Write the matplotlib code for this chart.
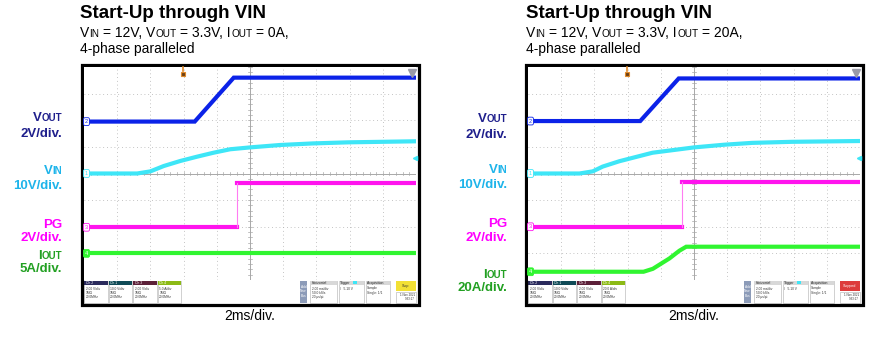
import matplotlib
matplotlib.use('Agg')
import matplotlib.pyplot as plt
from matplotlib.patches import Rectangle

plt.rcParams['font.family'] = ['Liberation Sans', 'DejaVu Sans']

W, H = 875, 348

# ---------------- data (time in ms, 2 ms/div) ----------------
# left capture: IOUT = 0A
t_vout_a = [-10, -3.33, -0.98, 10]
vout_a = [0, 0, 3.3, 3.3]
t_vin_a = [-10, -6.8, -6.0, -5.2, -4.2, -3.2, -2.2, -1.2, 0, 1.8, 3.8, 5.9, 10]
vin_a = [0, 0, 0.8, 2.8, 4.7, 6.3, 7.8, 9.1, 9.8, 10.7, 11.3, 11.7, 12.1]
t_pg_a = [-10, -0.77, -0.77, 10]
pg_a = [0, 0, 3.35, 3.35]
t_iout_a = [-10, 10]
iout_a = [0, 0]

# right capture: IOUT = 20A
t_vout_b = [-10, -3.24, -0.92, 10]
vout_b = [0, 0, 3.2, 3.2]
t_vin_b = [-10, -6.9, -6.1, -5.5, -4.5, -2.5, 0, 1.8, 3.5, 5.9, 10]
vin_b = [0, 0, 0.8, 2.6, 4.6, 7.8, 9.8, 10.8, 11.5, 11.9, 12.2]
t_pg_b = [-10, -0.71, -0.71, 10]
pg_b = [0, 0, 3.34, 3.34]
t_iout_b = [-10, -3.04, -2.48, -1.48, -0.88, -0.47, 10]
iout_b = [0, 0, 2.2, 10, 15.8, 18.8, 18.8]

# channel scales (units/div) and positions (div)
scale_a = {'vout': 2, 'vin': 10, 'pg': 2, 'iout': 5}
scale_b = {'vout': 2, 'vin': 10, 'pg': 2, 'iout': 20}
pos_a = {'vout': 1.95, 'vin': 0.0, 'pg': -2.02, 'iout': -3.0}
pos_b = {'vout': 1.97, 'vin': 0.0, 'pg': -2.0, 'iout': -3.69}

titles = ['Start-Up through VIN', 'Start-Up through VIN']
iout_text = ['0A,', '20A,']
iout_div = ['5A/div.', '20A/div.']

colors = {'vout': '#0b22e8', 'vin': '#3ee6f7', 'pg': '#ff14ee', 'iout': '#30f530'}
label_colors = {'vout': '#1f1f8c', 'vin': '#1eb4ea', 'pg': '#ff00ff', 'iout': '#22a022'}
tag_text = {'vout': '2', 'vin': '1', 'pg': '3', 'iout': '4'}

fig = plt.figure(figsize=(W / 100, H / 100), dpi=100)
ov = fig.add_axes([0, 0, 1, 1])
ov.set_xlim(0, W)
ov.set_ylim(H, 0)
ov.axis('off')
renderer = fig.canvas.get_renderer()


def text_w(s, size, weight='normal'):
    t = ov.text(0, 0, s, fontsize=size, fontweight=weight)
    w = t.get_window_extent(renderer).width
    t.remove()
    return w


def rich(x, y, parts, ha='left', weight='normal', color='black'):
    objs = []
    cx = x
    for s, size in parts:
        lead = len(s) - len(s.lstrip(' '))
        trail = len(s) - len(s.rstrip(' '))
        sp = text_w('a a', size, weight) - text_w('aa', size, weight)
        cx += lead * sp
        core = s.strip(' ')
        t = ov.text(cx, y, core, fontsize=size, fontweight=weight, color=color,
                    va='baseline', ha='left')
        cx += t.get_window_extent(renderer).width + trail * sp
        objs.append(t)
    if ha == 'right':
        shift = cx - x
        for t in objs:
            px, py = t.get_position()
            t.set_position((px - shift, py))


def draw_scope(gx, capture, scale, pos, k):
    gx0, gx1, gy0, gy1 = gx, gx + 332, 67, 280
    ax = fig.add_axes([gx0 / W, 1 - gy1 / H, (gx1 - gx0) / W, (gy1 - gy0) / H])
    ax.set_xlim(-10, 10)
    ax.set_ylim(-4, 4)
    ax.set_facecolor('white')
    for s in ax.spines.values():
        s.set_visible(False)
    ax.set_xticks([])
    ax.set_yticks([])

    # graticule
    for x in range(-8, 10, 2):
        if x != 0:
            ax.axvline(x, color='#b0b0b0', lw=0.6, ls=(0, (1, 3.5)), zorder=1)
    for y in range(-3, 4):
        if y != 0:
            ax.axhline(y, color='#b0b0b0', lw=0.6, ls=(0, (1, 3.5)), zorder=1)
    ax.axvline(0, color='#a8a8a8', lw=0.7, zorder=1)
    ax.axhline(0, color='#a8a8a8', lw=0.7, zorder=1)
    for i in range(-50, 51):
        xm = i * 0.4
        ax.plot([xm, xm], [-0.07, 0.07], color='#a8a8a8', lw=0.5, zorder=1)
    for i in range(-20, 21):
        ym = i * 0.2
        ax.plot([-0.1, 0.1], [ym, ym], color='#a8a8a8', lw=0.5, zorder=1)

    # traces
    for key in ['iout', 'pg', 'vin', 'vout']:
        t, v = capture[key]
        yd = [val / scale[key] + pos[key] for val in v]
        if key == 'pg':
            # fast edge: thin vertical, thick flat levels
            j = [i for i in range(1, len(t)) if t[i] == t[i - 1]][0]
            ax.plot(t[:j], yd[:j], color=colors[key], lw=3.0, zorder=3)
            ax.plot(t[j:], yd[j:], color=colors[key], lw=3.0, zorder=3)
            ax.plot(t[j - 1:j + 1], yd[j - 1:j + 1], color='#ff7cf2', lw=0.8, zorder=3)
        else:
            ax.plot(t, yd, color=colors[key], lw=3.0, solid_joinstyle='miter', zorder=3)
        # channel tag on the left edge
        face = colors['iout'] if key == 'iout' else 'white'
        tcol = 'white' if key == 'iout' else colors[key]
        ax.text(-9.85, pos[key], tag_text[key], fontsize=4, color=tcol,
                ha='center', va='center', zorder=5,
                bbox=dict(boxstyle='round,pad=0.25', fc=face, ec=colors[key], lw=0.6))

    # trigger position / level markers
    ax.plot([-4.05], [3.72], marker='s', ms=3.2, color='#6b4018', mec='#e08a2a', mew=0.8,
            zorder=6, clip_on=False)
    ax.plot([-4.05, -4.05], [3.85, 4.0], color='#e08a2a', lw=1.2, zorder=6, clip_on=False)
    ax.plot([9.75], [3.76], marker='v', ms=6, color='#9a9aa8', zorder=6, clip_on=False)
    ax.plot([9.95], [0.58], marker='<', ms=3, color=colors['vin'], zorder=6, clip_on=False)

    # frame around the capture
    ov.add_patch(Rectangle((gx - 2.5, 64.5), 337, 240, fill=False, ec='black', lw=2.3, zorder=10))

    # info bar
    ch_hdr = ['#2a2a5c', '#0f4a56', '#5c2038', '#8cba16']
    ch_name = ['Ch 2', 'Ch 1', 'Ch 3', 'Ch 4']
    ch_body = ['2.00 V/div\n1MΩ\n20.0MHz', '10.0 V/div\n1MΩ\n20.0MHz',
               '2.00 V/div\n1MΩ\n20.0MHz', '%d.0 A/div\n1MΩ\n20.0MHz' % scale['iout']]
    for i in range(4):
        bx = gx + i * 24.6
        ov.add_patch(Rectangle((bx, 280.5), 23.5, 22, fc='white', ec='#bdbdbd', lw=0.5, zorder=4))
        ov.add_patch(Rectangle((bx, 280.5), 23.5, 4.5, fc=ch_hdr[i], ec='none', zorder=5))
        ov.text(bx + 1.5, 282.8, ch_name[i], fontsize=2.4, color='white', va='center', zorder=6)
        ov.text(bx + 1.5, 286.5, ch_body[i], fontsize=2.3, color='#333333', va='top',
                linespacing=1.1, zorder=6)
    rx = gx + 216
    ov.add_patch(Rectangle((rx, 280.5), 7, 22, fc='#8c9bb8', ec='none', zorder=5))
    ov.text(rx + 3.5, 291.5, 'Add\nNew\nBus', fontsize=2.3, color='white', ha='center', va='center',
            linespacing=1.1, zorder=6)
    boxes = [('Horizontal', '2.00 ms/div\n50.0 kS/s\n20 μs/pt', 10, 27),
             ('Trigger', '/   5.10 V', 38.5, 25.5),
             ('Acquisition', 'Sample\nSingle: 1/1', 65.5, 24.5)]
    for hdr, body, off, wd in boxes:
        ov.add_patch(Rectangle((rx + off, 280.5), wd, 22, fc='white', ec='#bdbdbd', lw=0.5, zorder=4))
        ov.add_patch(Rectangle((rx + off, 280.5), wd, 4.5, fc='#d8d8d8', ec='none', zorder=5))
        ov.text(rx + off + 1.5, 282.8, hdr, fontsize=2.4, color='#222222', va='center', zorder=6)
        ov.text(rx + off + 1.5, 286.5, body, fontsize=2.3, color='#333333', va='top',
                linespacing=1.1, zorder=6)
    ov.add_patch(Rectangle((rx + 53, 281.3), 4, 3, fc=colors['vin'], ec='none', zorder=6))
    stop_fc = '#f2e034' if k == 0 else '#dd3b3b'
    stop_tx = 'Stop' if k == 0 else 'Stopped'
    ov.add_patch(Rectangle((rx + 96, 280.5), 20, 10.5, fc=stop_fc, ec='none', zorder=5))
    ov.text(rx + 106, 285.7, stop_tx, fontsize=2.6, color='#333333' if k == 0 else 'white',
            ha='center', va='center', zorder=6)
    ov.add_patch(Rectangle((rx + 96, 291.5), 20, 11, fc='white', ec='#bdbdbd', lw=0.5, zorder=4))
    ov.text(rx + 115, 293, '1 Nov 2021\n9:33:17', fontsize=2.2, color='#333333', ha='right',
            va='top', linespacing=1.1, zorder=6)

    # time base text
    ov.text(gx + 166, 320, '2ms/div.', fontsize=10, ha='center', va='baseline')


captures = [
    {'vout': (t_vout_a, vout_a), 'vin': (t_vin_a, vin_a), 'pg': (t_pg_a, pg_a), 'iout': (t_iout_a, iout_a)},
    {'vout': (t_vout_b, vout_b), 'vin': (t_vin_b, vin_b), 'pg': (t_pg_b, pg_b), 'iout': (t_iout_b, iout_b)},
]
grid_left = [84, 528]
title_x = [80, 526]
label_right = [62, 507]
label_y = [
    {'vout': (121, 136.7), 'vin': (174, 189.3), 'pg': (227.7, 241), 'iout': (259.3, 271.7)},
    {'vout': (122.3, 138.3), 'vin': (173.3, 188.3), 'pg': (226.7, 240.7), 'iout': (277.7, 291)},
]

for k in range(2):
    scale = scale_a if k == 0 else scale_b
    pos = pos_a if k == 0 else pos_b
    draw_scope(grid_left[k], captures[k], scale, pos, k)

    # headings
    tx = title_x[k]
    ov.text(tx, 18.3, titles[k], fontsize=13.5, fontweight='bold', va='baseline')
    big, small = 10, 7.2
    rich(tx, 36.7, [('V', big), ('IN', small), (' = 12V, V', big), ('OUT', small),
                    (' = 3.3V, I', big), ('OUT', small), (' = ' + iout_text[k], big)])
    ov.text(tx, 53.5, '4-phase paralleled', fontsize=big, va='baseline')

    # channel labels
    lx = label_right[k]
    ly = label_y[k]
    lb, ls = 9.5, 7.0
    rich(lx, ly['vout'][0], [('V', lb), ('OUT', ls)], ha='right', weight='bold', color=label_colors['vout'])
    ov.text(lx, ly['vout'][1], '2V/div.', fontsize=lb, fontweight='bold', ha='right', va='baseline',
            color=label_colors['vout'])
    rich(lx, ly['vin'][0], [('V', lb), ('IN', ls)], ha='right', weight='bold', color=label_colors['vin'])
    ov.text(lx, ly['vin'][1], '10V/div.', fontsize=lb, fontweight='bold', ha='right', va='baseline',
            color=label_colors['vin'])
    ov.text(lx, ly['pg'][0], 'PG', fontsize=lb, fontweight='bold', ha='right', va='baseline',
            color=label_colors['pg'])
    ov.text(lx, ly['pg'][1], '2V/div.', fontsize=lb, fontweight='bold', ha='right', va='baseline',
            color=label_colors['pg'])
    rich(lx, ly['iout'][0], [('I', lb), ('OUT', ls)], ha='right', weight='bold', color=label_colors['iout'])
    ov.text(lx, ly['iout'][1], iout_div[k], fontsize=lb, fontweight='bold', ha='right', va='baseline',
            color=label_colors['iout'])

fig.savefig('out.png', dpi=100)
